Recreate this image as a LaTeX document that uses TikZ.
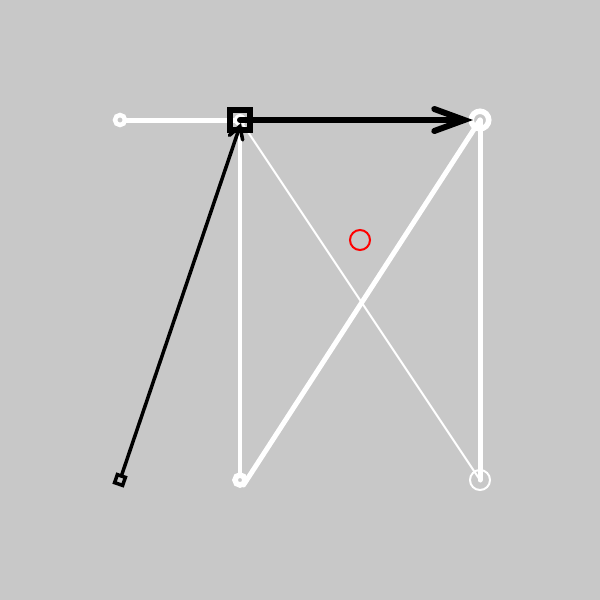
\documentclass[tikz,border=0pt]{standalone}
\usetikzlibrary{arrows.meta}
\definecolor{bg}{RGB}{200,200,200}
\begin{document}
\begin{tikzpicture}[x=1pt,y=-1pt,
  wline/.style={draw=white,line cap=round},
  bline/.style={draw=black,line cap=round},
  dotmark/.style={circle,draw=white,inner sep=0pt},
]
\fill[bg] (0,0) rectangle (600,600);
\useasboundingbox (0,0) rectangle (600,600);
\coordinate (p1) at (120,120);
\coordinate (p2) at (240,120);
\coordinate (p3) at (480,120);
\coordinate (p4) at (120,480);
\coordinate (p5) at (240,480);
\coordinate (p6) at (480,480);
\coordinate (p7) at (360,240);
% white connectors
\draw[wline,line width=5] (p1) -- ([xshift=5pt]p1) -- (p2);
\draw[wline,line width=4] (p2) -- ([yshift=6pt]p5);
\draw[wline,line width=2] (p2) -- (p6);
\draw[wline,line width=5] (p3) -- ([shift={(3.5pt,-5pt)}]p5);
\draw[wline,line width=5] (p3) -- (p6);
% markers
\node[dotmark,line width=4.5,minimum size=10pt,fill=bg] (m1) at (p1) {};
\node[dotmark,line width=5.5,minimum size=10pt,fill=bg] (m5) at (p5) {};
\node[circle,fill=white,minimum size=12pt,inner sep=0pt] (m2d) at (p2) {};
\node[dotmark,line width=5.5,minimum size=17.5pt] (m3) at (p3) {};
\node[dotmark,line width=2,minimum size=20pt] (m6) at (p6) {};
\node[circle,draw=red,line width=2,minimum size=20pt,inner sep=0pt] (m7) at (p7) {};
% black connectors
\draw[bline,line width=6,-{Straight Barb[length=30pt,width=22pt,line cap=round]}] (p2) -- ([xshift=-7pt]p3);
\draw[bline,line width=3.5,{Square[open,length=12pt,width=12pt,sep=-6pt]}-{Straight Barb[length=12pt,width=14pt,line cap=round]}] (p4) -- ([shift={(1pt,-3pt)}]p2);
\node[draw=black,line width=6,minimum size=19.5pt,inner sep=0pt] (m2) at (p2) {};
\end{tikzpicture}
\end{document}
